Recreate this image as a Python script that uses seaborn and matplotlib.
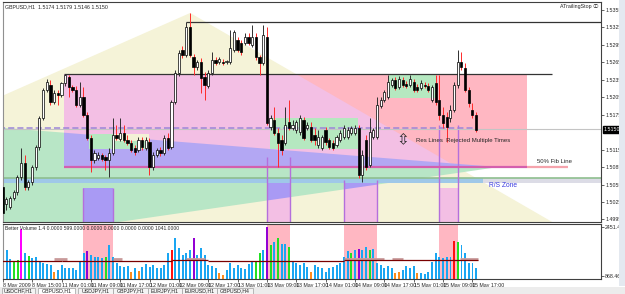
import numpy as np
import pandas as pd
import matplotlib
matplotlib.use("Agg")
import matplotlib.pyplot as plt
import matplotlib.transforms as mtransforms
from matplotlib.patches import Polygon, Rectangle
import seaborn as sns

# GBPUSD H1 candles, 8 May 2009 07:00 -> 15 May 2009 18:00
opens = [1.5051, 1.5022, 1.5016, 1.5032, 1.5042, 1.5068, 1.5092, 1.5051, 1.5059, 1.5085,
         1.5120, 1.5169, 1.5217, 1.5226, 1.5197, 1.5212, 1.5209, 1.5230, 1.5240, 1.5223,
         1.5217, 1.5192, 1.5205, 1.5175, 1.5135, 1.5097, 1.5101, 1.5106, 1.5102, 1.5097,
         1.5109, 1.5140, 1.5133, 1.5144, 1.5132, 1.5126, 1.5118, 1.5114, 1.5132, 1.5118,
         1.5128, 1.5085, 1.5106, 1.5114, 1.5109, 1.5135, 1.5120, 1.5197, 1.5247, 1.5286,
         1.5278, 1.5326, 1.5274, 1.5257, 1.5266, 1.5240, 1.5224, 1.5247, 1.5269, 1.5266,
         1.5266, 1.5266, 1.5266, 1.5286, 1.5303, 1.5298, 1.5298, 1.5309, 1.5295, 1.5309,
         1.5274, 1.5264, 1.5309, 1.5154, 1.5166, 1.5144, 1.5132, 1.5126, 1.5162, 1.5152,
         1.5149, 1.5145, 1.5166, 1.5152, 1.5154, 1.5140, 1.5123, 1.5118, 1.5149, 1.5132,
         1.5126, 1.5123, 1.5132, 1.5137, 1.5137, 1.5144, 1.5144, 1.5152, 1.5071, 1.5132,
         1.5089, 1.5137, 1.5137, 1.5190, 1.5200, 1.5205, 1.5226, 1.5235, 1.5223, 1.5235,
         1.5228, 1.5226, 1.5231, 1.5223, 1.5221, 1.5226, 1.5224, 1.5200, 1.5230, 1.5200,
         1.5175, 1.5171, 1.5169, 1.5183, 1.5226, 1.5266, 1.5255, 1.5217, 1.5183, 1.5175]
highs = [1.5054, 1.5034, 1.5035, 1.5046, 1.5071, 1.5118, 1.5106, 1.5063, 1.5089, 1.5123,
         1.5173, 1.5221, 1.5236, 1.5235, 1.5217, 1.5217, 1.5231, 1.5245, 1.5243, 1.5226,
         1.5224, 1.5231, 1.5223, 1.5180, 1.5140, 1.5114, 1.5111, 1.5109, 1.5106, 1.5118,
         1.5169, 1.5157, 1.5169, 1.5157, 1.5140, 1.5132, 1.5123, 1.5137, 1.5137, 1.5137,
         1.5135, 1.5111, 1.5118, 1.5120, 1.5140, 1.5144, 1.5200, 1.5252, 1.5286, 1.5293,
         1.5334, 1.5350, 1.5279, 1.5269, 1.5272, 1.5248, 1.5252, 1.5283, 1.5274, 1.5274,
         1.5271, 1.5269, 1.5321, 1.5321, 1.5309, 1.5303, 1.5315, 1.5315, 1.5329, 1.5315,
         1.5278, 1.5329, 1.5326, 1.5175, 1.5188, 1.5152, 1.5140, 1.5188, 1.5200, 1.5166,
         1.5166, 1.5175, 1.5171, 1.5162, 1.5162, 1.5152, 1.5149, 1.5140, 1.5154, 1.5135,
         1.5132, 1.5140, 1.5149, 1.5157, 1.5154, 1.5156, 1.5157, 1.5157, 1.5114, 1.5140,
         1.5169, 1.5152, 1.5205, 1.5205, 1.5217, 1.5243, 1.5238, 1.5240, 1.5242, 1.5240,
         1.5233, 1.5243, 1.5236, 1.5228, 1.5235, 1.5231, 1.5230, 1.5226, 1.5243, 1.5243,
         1.5188, 1.5180, 1.5192, 1.5231, 1.5286, 1.5283, 1.5264, 1.5223, 1.5195, 1.5180]
lows = [1.4994, 1.5011, 1.5013, 1.5028, 1.5037, 1.5063, 1.5046, 1.5046, 1.5054, 1.5080,
        1.5114, 1.5166, 1.5214, 1.5192, 1.5193, 1.5192, 1.5205, 1.5224, 1.5205, 1.5214,
        1.5188, 1.5188, 1.5171, 1.5132, 1.5077, 1.5092, 1.5097, 1.5095, 1.5080, 1.5068,
        1.5106, 1.5132, 1.5130, 1.5128, 1.5123, 1.5111, 1.5106, 1.5111, 1.5114, 1.5114,
        1.5071, 1.5080, 1.5102, 1.5104, 1.5106, 1.5114, 1.5116, 1.5193, 1.5242, 1.5272,
        1.5274, 1.5274, 1.5243, 1.5252, 1.5212, 1.5200, 1.5221, 1.5243, 1.5260, 1.5262,
        1.5260, 1.5262, 1.5262, 1.5283, 1.5283, 1.5278, 1.5295, 1.5295, 1.5291, 1.5269,
        1.5243, 1.5260, 1.5157, 1.5149, 1.5140, 1.5085, 1.5106, 1.5123, 1.5149, 1.5149,
        1.5144, 1.5140, 1.5132, 1.5149, 1.5128, 1.5123, 1.5118, 1.5114, 1.5123, 1.5116,
        1.5114, 1.5120, 1.5128, 1.5133, 1.5133, 1.5140, 1.5140, 1.5066, 1.5059, 1.5080,
        1.5085, 1.5133, 1.5133, 1.5187, 1.5197, 1.5202, 1.5223, 1.5217, 1.5219, 1.5223,
        1.5221, 1.5223, 1.5214, 1.5214, 1.5217, 1.5221, 1.5214, 1.5197, 1.5192, 1.5166,
        1.5152, 1.5128, 1.5162, 1.5180, 1.5221, 1.5252, 1.5214, 1.5188, 1.5169, 1.5145]
closes = [1.5006, 1.5030, 1.5032, 1.5042, 1.5068, 1.5092, 1.5051, 1.5059, 1.5085, 1.5120,
          1.5169, 1.5217, 1.5231, 1.5197, 1.5212, 1.5209, 1.5230, 1.5243, 1.5223, 1.5217,
          1.5192, 1.5205, 1.5175, 1.5135, 1.5097, 1.5109, 1.5106, 1.5099, 1.5097, 1.5109,
          1.5140, 1.5135, 1.5144, 1.5132, 1.5126, 1.5114, 1.5111, 1.5132, 1.5120, 1.5132,
          1.5085, 1.5106, 1.5114, 1.5109, 1.5135, 1.5118, 1.5197, 1.5247, 1.5281, 1.5278,
          1.5326, 1.5278, 1.5257, 1.5266, 1.5238, 1.5226, 1.5247, 1.5269, 1.5264, 1.5271,
          1.5264, 1.5266, 1.5290, 1.5317, 1.5286, 1.5283, 1.5309, 1.5298, 1.5309, 1.5274,
          1.5264, 1.5312, 1.5161, 1.5169, 1.5144, 1.5126, 1.5114, 1.5157, 1.5152, 1.5157,
          1.5162, 1.5169, 1.5135, 1.5157, 1.5132, 1.5132, 1.5137, 1.5137, 1.5128, 1.5120,
          1.5118, 1.5137, 1.5144, 1.5152, 1.5149, 1.5152, 1.5152, 1.5071, 1.5106, 1.5085,
          1.5145, 1.5149, 1.5192, 1.5200, 1.5214, 1.5231, 1.5235, 1.5221, 1.5236, 1.5226,
          1.5224, 1.5236, 1.5217, 1.5217, 1.5230, 1.5224, 1.5217, 1.5223, 1.5197, 1.5175,
          1.5161, 1.5154, 1.5183, 1.5226, 1.5266, 1.5257, 1.5217, 1.5195, 1.5175, 1.5149]

# Better Volume histogram
volumes = [1363, 1708, 1418, 1321, 1385, 2387, 1612, 1515, 1450, 1482,
           1321, 1289, 1256, 1224, 998, 1062, 1224, 1127, 1127, 1127,
           1062, 1321, 1612, 1676, 1547, 1482, 1482, 1450, 1482, 1870,
           1482, 1289, 1192, 1159, 1192, 998, 1127, 1030, 1159, 1256,
           1159, 1224, 1127, 1127, 1224, 1612, 1708, 2096, 1773, 1547,
           1612, 1708, 2096, 1547, 1773, 1547, 1224, 1192, 1127, 965,
           901, 1062, 1289, 1127, 1224, 1127, 1095, 1256, 1321, 1321,
           1612, 1708, 2451, 1870, 1967, 2096, 1902, 1902, 1805, 1321,
           1289, 1224, 1289, 1159, 998, 1224, 1159, 1127, 998, 1127,
           1159, 1224, 1289, 1482, 1676, 1612, 1708, 1741, 1708, 1805,
           1708, 1741, 1289, 1224, 1127, 1192, 1127, 965, 998, 1062,
           1192, 1127, 1192, 965, 965, 933, 998, 1321, 1612, 1482,
           1450, 1482, 1482, 2000, 1967, 1870, 1612, 1289, 1289, 1127]
vol_kind = list("bbbggmbgbb" "bbbbobbbbb" "bbbpbbbbgb" "bbbbbobobb" "bbbbbbrbbb"
                "bbpbbbbbbo" "obbbbbbbbg" "gbpgbgbbgb" "bbbbobbbbb" "bbbbbgbpbb"
                "gbbbbbboob" "bbbobbbbbb" "bbbrgbbbbb")
vol_avg_edges = [-0.5, 16, 46, 56, 93, 129.5]
vol_avg = [1353, 1369, 1400, 1369, 1385]
vol_avg_hi = [(14, 17.5), (30, 32.5), (50, 55), (93, 104), (106, 109), (124.5, 129.5)]

time_labels = ["8 May 2009", "8 May 15:00", "11 May 01:00", "11 May 09:00", "11 May 17:00",
               "12 May 01:00", "12 May 09:00", "12 May 17:00", "13 May 01:00", "13 May 09:00",
               "13 May 17:00", "14 May 01:00", "14 May 09:00", "14 May 17:00", "15 May 01:00",
               "15 May 09:00", "15 May 17:00"]
price_ticks = [1.5355, 1.5325, 1.5295, 1.5265, 1.5235, 1.5205, 1.5175,
               1.5115, 1.5085, 1.5055, 1.5025, 1.4995]
tabs = ["USDCHF,H1", "GBPUSD,H1", "USDJPY,H1", "GBPJPY,H1", "EURJPY,H1", "EURUSD,H1", "GBPUSD,H4"]

# chart objects (bar index, price)
yellow_tri = [(-1, 1.5205), (51.1, 1.5350), (152.7, 1.4980), (-1, 1.4980)]
green_tri = [(-1, 1.5153), (135.0, 1.5085), (20.0, 1.4980), (-1, 1.4980)]
zone_rect = (16.7, 142.9, 1.5085, 1.5245)
green_boxes = [(23.5, 39.9, 1.5116, 1.5142), (72.8, 96.8, 1.5116, 1.5169), (105.3, 118.1, 1.5204, 1.5245)]
time_boxes = [(21.9, 30.1, 1.5049, 1.5049), (72.0, 78.2, 1.5063, 1.5102),
              (93.0, 102.0, 1.5063, 1.5063), (118.9, 124.1, 1.5049, 1.5157)]

df = pd.DataFrame({"i": np.arange(len(closes)), "open": opens, "high": highs, "low": lows,
                   "close": closes, "volume": volumes, "kind": vol_kind})

sns.set_theme(style="white")
plt.rcParams['font.family'] = ['Liberation Sans', 'DejaVu Sans', 'Noto Sans CJK JP']

fig = plt.figure(figsize=(6.25, 2.94), dpi=100)
ax = fig.add_axes([3 / 625, 1 - 222 / 294, 598 / 625, 220 / 294])
axv = fig.add_axes([3 / 625, 1 - 279 / 294, 598 / 625, 55 / 294])

# background objects
ypoly = Polygon(yellow_tri, closed=True, fc='#f5f3d8', ec='none', zorder=0)
gpoly = Polygon(green_tri, closed=True, fc='#b8e6c6', ec='none', zorder=0.1)
ax.add_patch(ypoly)
ax.add_patch(gpoly)

x0, x1, p0, p1 = zone_rect
ax.add_patch(Rectangle((x0, p0), x1 - x0, p1 - p0, fc='#ffb7c2', ec='none', zorder=0.2))
pink = Rectangle((x0, p0), x1 - x0, p1 - p0, fc='#f3bfe4', ec='none', zorder=0.3)
ax.add_patch(pink)
pink.set_clip_path(ypoly)
purple = Rectangle((x0, p0), x1 - x0, p1 - p0, fc='#b3a7f3', ec='none', zorder=0.4)
ax.add_patch(purple)
purple.set_clip_path(gpoly)

for bx0, bx1, top, ltop in time_boxes:
    ax.add_patch(Rectangle((bx0, 1.4980), bx1 - bx0, top - 1.4980, fc='#f3bfe4', ec='none', zorder=0.5))
    r = Rectangle((bx0, 1.4980), bx1 - bx0, top - 1.4980, fc='#a99af4', ec='none', zorder=0.55)
    ax.add_patch(r)
    r.set_clip_path(gpoly)
    ax.vlines([bx0, bx1], 1.4980, ltop, color='#b46fdc', lw=1, zorder=0.9)
    axv.axvspan(bx0, bx1, color='#ffb7c2', lw=0, zorder=0)

ax.add_patch(Rectangle((-1, 1.5058), 131.9, 0.0008, fc='#9fc8e8', ec='none', zorder=0.6))
ax.add_patch(Rectangle((130.9, 1.5058), 40, 0.0008, fc='#dcdce6', ec='none', zorder=0.6))
ax.axhline(1.5067, color='#8fbf8f', lw=1.2, zorder=0.7)

for gx0, gx1, gp0, gp1 in green_boxes:
    ax.add_patch(Rectangle((gx0, gp0), gx1 - gx0, gp1 - gp0, fc='#b5e8c0', ec='none', zorder=0.8))
ax.add_patch(Rectangle((30.3, 1.5130), 9.6, 0.0012, fc='#f3f1d6', ec='none', zorder=0.85))

ax.hlines(1.5085, 16.7, 142.9, color='#d45fae', lw=1.6, zorder=1)
ax.hlines(1.5085, 142.9, 154.1, color='#f5a3ac', lw=1.6, zorder=1)
ax.hlines(1.5245, 16.7, 149.7, color='#333333', lw=0.9, zorder=1)
ax.hlines(1.5334, 50.0, 170, color='#333333', lw=0.9, zorder=1)
ax.axhline(1.5150, color='#c4c4c4', lw=0.8, zorder=1)
ax.hlines(1.5153, -1, 129.0, color='#9c86d8', lw=1.1, linestyles=(0, (4, 2)), zorder=1.1)

# candles
bull = df[df.close >= df.open]
bear = df[df.close < df.open]
ax.vlines(bull.i, bull.low, bull.high, color='#303030', lw=0.7, zorder=2)
ax.vlines(bear.i, bear.low, bear.high, color='#ff2a2a', lw=0.7, zorder=2)
ax.bar(bull.i, np.maximum(bull.close - bull.open, 0.00006), bottom=bull.open, width=0.6,
       color='white', edgecolor='black', linewidth=0.5, zorder=3)
ax.bar(bear.i, np.maximum(bear.open - bear.close, 0.00006), bottom=bear.close, width=0.6,
       color='black', edgecolor='black', linewidth=0.5, zorder=3)

ax.text(112.6, 1.5130, "Res Lines  Rejected Multiple Times", fontsize=4.3, va='center', zorder=5)
ax.text(109.1, 1.5131, "\u21f3", fontsize=11, ha='center', va='center', zorder=5)
ax.text(145.6, 1.5094, "50% Fib Line", fontsize=4.3, va='center', zorder=5)
ax.text(132.5, 1.5054, "R/S Zone", fontsize=4.8, color='#3a3ae0', va='center', zorder=5)
ax.text(0.004, 0.99, "GBPUSD,H1  1.5174 1.5179 1.5146 1.5150", transform=ax.transAxes,
        fontsize=3.8, va='top', zorder=5)
ax.text(0.996, 0.99, "ATrailingStop \u24d8", transform=ax.transAxes, fontsize=3.8,
        va='top', ha='right', zorder=5, family=['Liberation Sans', 'Noto Sans CJK JP', 'DejaVu Sans'])

ax.set_xlim(0.08, 163.06)
ax.set_ylim(1.49906, 1.53688)
ax.set_xticks([])
ax.yaxis.tick_right()
ax.set_yticks(price_ticks)
ax.set_yticklabels([f"{p:.4f}" for p in price_ticks])
ax.tick_params(axis='y', labelsize=3.8, length=2, pad=1, width=0.5, right=True)
tr = mtransforms.blended_transform_factory(ax.transAxes, ax.transData)
ax.text(1.004, 1.5150, "1.5150", transform=tr, fontsize=3.8, color='white', va='center',
        bbox=dict(boxstyle='square,pad=0.15', fc='black', ec='black'), zorder=6)

# volume panel
palette = {'b': '#1aa6f2', 'g': '#22e022', 'm': '#ff00ff', 'p': '#9400d3', 'r': '#ff1010', 'o': '#ff8c1a'}
sns.barplot(data=df, x='i', y='volume', hue='kind', palette=palette, native_scale=True,
            dodge=False, width=0.5, errorbar=None, saturation=1, legend=False, ax=axv,
            zorder=2, linewidth=0)
axv.hlines(vol_avg, vol_avg_edges[:-1], vol_avg_edges[1:], color='#7a0000', lw=0.9, zorder=3)
for h0, h1 in vol_avg_hi:
    axv.hlines(1405, h0, h1, color='#c99a9a', lw=2.0, zorder=2.9)
axv.text(0.004, 0.96, "Better Volume 1.4 0.0000 599.0000 0.0000 0.0000 0.0000 0.0000 1041.0000",
         transform=axv.transAxes, fontsize=3.6, va='top', zorder=5)
axv.set_xlim(0.08, 163.06)
axv.set_ylim(771.6, 2548.4)
axv.set_xlabel('')
axv.set_ylabel('')
axv.yaxis.tick_right()
axv.set_yticks([868.46, 2451.46])
axv.set_yticklabels(["868.46", "2451.46"])
axv.set_xticks(np.arange(0, 129, 8))
axv.set_xticklabels(time_labels, ha='left')
axv.tick_params(axis='both', labelsize=3.8, length=2, pad=1, width=0.5, bottom=True, right=True)

for a in (ax, axv):
    for s in a.spines.values():
        s.set_color('#404040')
        s.set_linewidth(0.8)
    a.spines['left'].set_color('#909090')

# tab strip
fig.patches.append(Rectangle((0, 0), 1, 7.5 / 294, transform=fig.transFigure, fc='#ececec',
                             ec='none', zorder=0))
tab_x = [(2, 35), (38, 75), (78, 113), (113, 148), (148, 182), (182, 217), (217, 253)]
for k, (name, (tx0, tx1)) in enumerate(zip(tabs, tab_x)):
    fc = 'white' if k == 1 else '#f4f4f4'
    fig.patches.append(Rectangle((tx0 / 625, 0), (tx1 - tx0) / 625, 6.5 / 294,
                                 transform=fig.transFigure, fc=fc, ec='#a0a0a0', lw=0.5))
    fig.text((tx0 + tx1) / 2 / 625, 3 / 294, name, fontsize=3.8, ha='center', va='center')
fig.patches.append(Rectangle((619 / 625, 8 / 294), 6 / 625, 286 / 294, transform=fig.transFigure,
                             fc='#e4e9f0', ec='none'))

fig.savefig("out.png", dpi=100)
